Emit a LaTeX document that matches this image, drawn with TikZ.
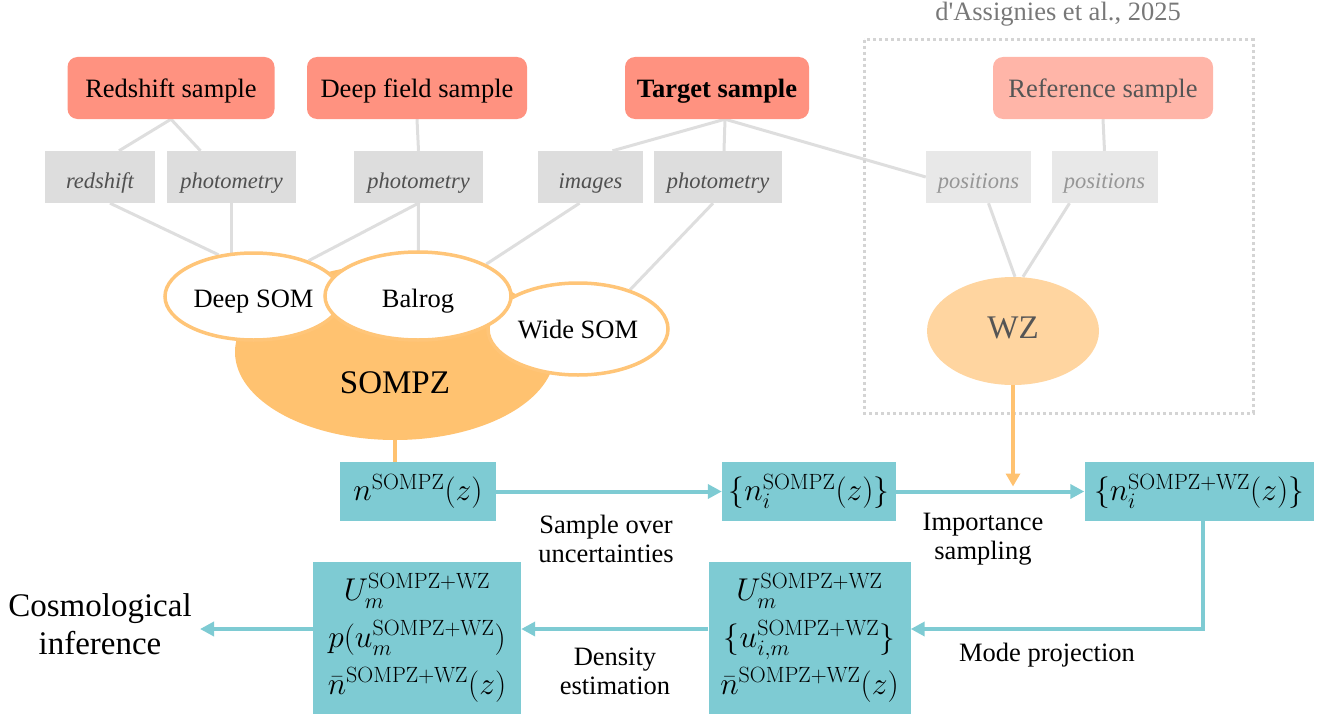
\RequirePackage{fix-cm}
\documentclass[tikz,border=0pt]{standalone}
\usepackage[no-math]{fontspec}
\setmainfont{Liberation Serif}
\usetikzlibrary{shapes.geometric,arrows.meta,calc}
\pgfdeclarelayer{bg}
\pgfsetlayers{bg,main}
\definecolor{salmon}{RGB}{255,146,128}
\definecolor{salmonlt}{RGB}{255,181,168}
\definecolor{reftext}{RGB}{85,85,85}
\definecolor{boxgrey}{RGB}{221,221,221}
\definecolor{boxgreylt}{RGB}{232,232,232}
\definecolor{attrtext}{RGB}{80,80,80}
\definecolor{attrtextlt}{RGB}{150,150,150}
\definecolor{linegrey}{RGB}{222,222,222}
\definecolor{framegrey}{RGB}{212,212,212}
\definecolor{orng}{RGB}{255,194,112}
\definecolor{orngbd}{RGB}{255,197,120}
\definecolor{ornglt}{RGB}{255,213,160}
\definecolor{tealc}{RGB}{126,203,211}
\definecolor{citegrey}{RGB}{120,120,120}
\begin{document}
\begin{tikzpicture}[x=1pt,y=-1pt,
  samp/.style={rectangle, rounded corners=10pt, fill=salmon, minimum height=62pt, inner sep=0pt, text height=19pt, text depth=0pt, font=\fontsize{26.5pt}{30pt}\selectfont},
  attr/.style={rectangle, fill=boxgrey, minimum height=52pt, inner sep=0pt, text height=23pt, text depth=0pt, text=attrtext, font=\fontsize{22.5pt}{27pt}\selectfont\itshape},
  attrlt/.style={attr, fill=boxgreylt, text=attrtextlt},
  som/.style={ellipse, draw=orngbd, line width=3.5pt, fill=white, inner sep=0pt, text height=21pt, text depth=0pt, font=\fontsize{26.5pt}{30pt}\selectfont},
  res/.style={rectangle, fill=tealc, inner sep=0pt, font=\fontsize{31.5pt}{47pt}\selectfont, align=center},
  lbl/.style={align=center, inner sep=0pt, font=\fontsize{26.5pt}{29pt}\selectfont},
  gl/.style={draw=linegrey, line width=3pt},
  tarrow/.style={draw=tealc, line width=4pt, -{Triangle[length=14pt,width=14pt]}},
  oline/.style={draw=orng, line width=3.5pt},
  oarrow/.style={draw=orng, line width=3.5pt, -{Triangle[length=13pt,width=14pt]}},
]
\useasboundingbox (0,0) rectangle (1325,717);

% citation and dotted frame
\node[text=citegrey, inner sep=0pt, font=\fontsize{26.5pt}{30pt}\selectfont] (cite) at (1058,14) {d\textquotesingle Assignies et al., 2025};
\draw[draw=framegrey, line width=3pt, dash pattern=on 3pt off 3pt] (864,40) rectangle (1253,413);

% samples
\node[samp, minimum width=207pt] (rs) at (171,88) {Redshift sample};
\node[samp, minimum width=220pt] (df) at (417,88) {Deep field sample};
\node[samp, minimum width=184pt, font=\fontsize{26.5pt}{30pt}\selectfont\bfseries] (ts) at (717,88) {Target sample};
\node[samp, minimum width=220pt, fill=salmonlt, text=reftext] (ref) at (1103,88) {Reference sample};

% attributes
\node[attr, minimum width=110pt] (zr) at (100,177) {redshift};
\node[attr, minimum width=129pt] (rp) at (231.5,177) {photometry};
\node[attr, minimum width=129pt] (dp) at (418.5,177) {photometry};
\node[attr, minimum width=105pt] (im) at (590.5,177) {images};
\node[attr, minimum width=128pt] (tp) at (718,177) {photometry};
\node[attrlt, minimum width=105pt] (p1) at (978.5,177) {positions};
\node[attrlt, minimum width=106pt] (p2) at (1104.5,177) {positions};

% SOMPZ group
\node[ellipse, fill=orng, minimum width=320pt, minimum height=176pt, inner sep=0pt] (sompz) at (395,352) {};
\node[inner sep=0pt, font=\fontsize{33pt}{36pt}\selectfont] (sompzt) at (395,383) {SOMPZ};
\node[som, minimum width=177pt, minimum height=87pt] (dsom) at (253.5,296.5) {Deep SOM};
\node[som, minimum width=180pt, minimum height=92pt, text height=19pt] (wsom) at (578,329) {Wide SOM};
\node[som, minimum width=186pt, minimum height=88pt, text height=22pt] (bal) at (418,296) {Balrog};

% WZ
\node[ellipse, fill=ornglt, minimum width=172pt, minimum height=108pt, inner sep=0pt, text height=15pt, text depth=0pt, text=reftext, font=\fontsize{33pt}{36pt}\selectfont] (wz) at (1013,331) {WZ};

% result boxes
\node[res, minimum width=156pt, minimum height=59pt] (n1) at (418,491.5) {$n^{\mathrm{SOMPZ}}(z)$};
\node[res, minimum width=174pt, minimum height=59pt] (n2) at (809,491.5) {$\{n_i^{\mathrm{SOMPZ}}(z)\}$};
\node[res, minimum width=229pt, minimum height=59pt] (n3) at (1199,491.5) {$\{n_i^{\mathrm{SOMPZ+WZ}}(z)\}$};
\node[res, minimum width=202pt, minimum height=152pt] (mbox) at (809.5,638) {$U_m^{\mathrm{SOMPZ+WZ}}$\\ $\{u_{i,m}^{\mathrm{SOMPZ+WZ}}\}$\\ $\bar{n}^{\mathrm{SOMPZ+WZ}}(z)$};
\node[res, minimum width=208pt, minimum height=152pt] (lbox) at (417,638) {$U_m^{\mathrm{SOMPZ+WZ}}$\\ $p(u_m^{\mathrm{SOMPZ+WZ}})$\\ $\bar{n}^{\mathrm{SOMPZ+WZ}}(z)$};

% labels
\node[lbl] (l1) at (606,539) {Sample over\\uncertainties};
\node[lbl] (l2) at (983,539) {Importance\\sampling};
\node[lbl] (l3) at (1047,655) {Mode projection};
\node[lbl] (l4) at (615,671) {Density\\estimation};
\node[align=center, inner sep=0pt, font=\fontsize{33pt}{38pt}\selectfont] (cosmo) at (100,624) {Cosmological\\inference};
\coordinate (cosmotip) at (200,629);

% grey connectors (behind)
\begin{pgfonlayer}{bg}
\draw[gl] (rs.south) -- ([xshift=19pt]zr.north);
\draw[gl] (rs.south) -- ([xshift=-31pt]rp.north);
\draw[gl] (df.south) -- (dp.north);
\draw[gl] ([xshift=8pt]ts.south) -- ([xshift=22pt]im.north);
\draw[gl] ([xshift=8pt]ts.south) -- ([xshift=6pt]tp.north);
\draw[gl] ([xshift=8pt]ts.south) -- (p1.west);
\draw[gl] (ref.south) -- (p2.north);
\draw[gl] ([xshift=10pt]zr.south) -- (dsom.130);
\draw[gl] (rp.south) -- (rp.south |- dsom.center);
\draw[gl] (dp.south) -- (dsom.33);
\draw[gl] (dp.south) -- (bal.center);
\draw[gl] ([xshift=-11pt]im.south) -- (bal.25);
\draw[gl] ([xshift=-5pt]tp.south) -- (wsom.37);
\draw[gl] ([xshift=10pt]p1.south) -- ([xshift=2pt]wz.north);
\draw[gl] ([xshift=-35pt]p2.south) -- ([xshift=10pt]wz.north);
\end{pgfonlayer}

% orange connectors
\draw[oline] (sompz.south) -- (sompz.south |- n1.north);
\draw[oarrow] (wz.south) -- ([yshift=5pt]wz.south |- n2.east);

% teal arrows
\draw[tarrow] (n1.east) -- (n2.west);
\draw[tarrow] (n2.east) -- (n3.west);
\draw[tarrow] ([xshift=4pt]n3.south) |- ([yshift=9pt]mbox.east);
\draw[tarrow] ([yshift=9pt]mbox.west) -- ([yshift=9pt]lbox.east);
\draw[tarrow] ([yshift=9pt]lbox.west) -- (cosmotip);
\end{tikzpicture}
\end{document}
